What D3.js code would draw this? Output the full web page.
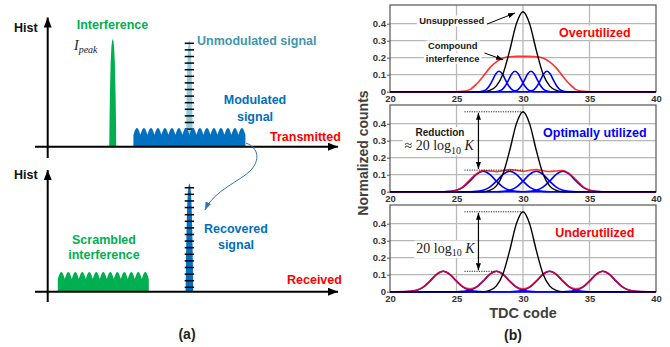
<!DOCTYPE html>
<html>
<head>
<meta charset="utf-8">
<script src="https://cdn.jsdelivr.net/npm/d3@7"></script>
<style>
  body { margin: 0; background: #fff; }
  svg { display: block; }
  text { font-family: "Liberation Sans", Arial, sans-serif; }
</style>
</head>
<body>
<svg id="chart" width="670" height="347"></svg>
<script>
// ---------------- data: panel (a), schematic histograms ----------------
// x in "code" units (one bump per unit), y normalised to 1 = full height
const spikeNames = ['Interference', 'Unmodulated', 'Recovered'];
const spikePos = [9.25, 20.2, 20.2];
const spikeHeight = [0.98, 0.97, 0.985];
const spikeHalfWidth = [0.5, 0.48, 0.54];
const spikeOffsets = [-1, -0.9, -0.8, -0.6, -0.4, -0.2, 0, 0.2, 0.4, 0.6, 0.8, 0.9, 1];
const spikeProfile = [0, 0.3, 0.5, 0.78, 0.92, 0.98, 1, 0.98, 0.92, 0.78, 0.5, 0.3, 0];

const bumpOffsets = [-0.5, -0.4, -0.3, -0.2, -0.1, 0, 0.1, 0.2, 0.3, 0.4, 0.5];
const bumpProfile = [0.64, 0.75, 0.85, 0.93, 0.98, 1, 0.98, 0.93, 0.85, 0.75, 0.64];
const modulatedCenters = [12.7, 13.7, 14.7, 15.7, 16.7, 17.7, 18.7, 19.7, 20.7, 21.7, 22.7, 23.7, 24.7, 25.7, 26.7, 27.7];
const modulatedHeight = 0.17;
const scrambledCenters = [1.9, 2.9, 3.9, 4.9, 5.9, 6.9, 7.9, 8.9, 9.9, 10.9, 11.9, 12.9, 13.9];
const scrambledHeight = 0.18;
const unmodTicks = [0.94, 0.88, 0.82, 0.76, 0.70, 0.64, 0.58, 0.52, 0.46, 0.40, 0.34, 0.28, 0.22, 0.16];
const recoveredTicks = [0.945, 0.885, 0.825, 0.765, 0.70, 0.64, 0.58, 0.52, 0.46, 0.40, 0.34, 0.28, 0.22, 0.16, 0.10, 0.04];

// ---------------- data: panel (b), TDC code histograms ----------------
const subplotNames = ['Overutilized', 'Optimally utilized', 'Underutilized'];
const tdcTicks = [20, 25, 30, 35, 40];
const countTicks = [0, 0.1, 0.2, 0.3, 0.4];
const countTickLabels = ['0', '0.1', '0.2', '0.3', '0.4'];

const unsuppressedCenter = 30;
const wideOffsets = [-3, -2.5, -2, -1.5, -1, -0.5, 0, 0.5, 1, 1.5, 2, 2.5, 3];
const unsuppressedProfile = [0, 0.008, 0.034, 0.106, 0.243, 0.399, 0.47, 0.399, 0.243, 0.106, 0.034, 0.008, 0];
const blueWideProfile = [0, 0.002, 0.0085, 0.027, 0.062, 0.102, 0.12, 0.102, 0.062, 0.027, 0.0085, 0.002, 0];
const narrowOffsets = [-1.5, -1.25, -1, -0.75, -0.5, -0.25, 0, 0.25, 0.5, 0.75, 1, 1.25, 1.5];
const blueNarrowProfile = [0, 0.003, 0.011, 0.032, 0.066, 0.104, 0.12, 0.104, 0.066, 0.032, 0.011, 0.003, 0];

const overCenters = [28.2, 29.4, 30.6, 31.8];
const optCenters = [27, 29, 31, 33];
const underCenters = [24, 28, 32, 36];

const overRedX = [20, 25, 25.5, 26, 26.5, 27, 27.5, 28, 28.5, 29, 29.5, 30, 30.5, 31, 31.5, 32, 32.5, 33, 33.5, 34, 34.5, 35, 40];
const overRedY = [0, 0, 0.002, 0.012, 0.045, 0.09, 0.14, 0.175, 0.198, 0.206, 0.208, 0.208, 0.208, 0.206, 0.198, 0.175, 0.14, 0.09, 0.045, 0.012, 0.002, 0, 0];
const optRedX = [20, 24, 24.5, 25, 25.5, 26, 26.5, 27, 27.5, 28, 28.5, 29, 29.5, 30, 30.5, 31, 31.5, 32, 32.5, 33, 33.5, 34, 34.5, 35, 35.5, 36, 40];
const optRedY = [0, 0, 0.001, 0.008, 0.03, 0.07, 0.105, 0.124, 0.122, 0.118, 0.123, 0.13, 0.126, 0.12, 0.126, 0.13, 0.124, 0.119, 0.122, 0.125, 0.105, 0.07, 0.03, 0.008, 0.001, 0, 0];
const underRedX = [20, 20.5, 21, 21.5, 22, 22.5, 23, 23.5, 24, 24.5, 25, 25.5, 26, 26.5, 27, 27.5, 28, 28.5, 29, 29.5, 30,
  30.5, 31, 31.5, 32, 32.5, 33, 33.5, 34, 34.5, 35, 35.5, 36, 36.5, 37, 37.5, 38, 38.5, 39, 39.5, 40];
const underRedY = [0, 0, 0.001, 0.002, 0.0085, 0.027, 0.062, 0.102, 0.12, 0.102, 0.062, 0.028, 0.017, 0.028, 0.062, 0.102, 0.12, 0.102, 0.062, 0.028, 0.017,
  0.028, 0.062, 0.102, 0.12, 0.102, 0.062, 0.028, 0.017, 0.028, 0.062, 0.102, 0.12, 0.102, 0.062, 0.027, 0.0085, 0.002, 0.001, 0, 0];

const peakLevel = 0.47;
const suppressedLevel = [null, 0.127, 0.12];

// ---------------- styles ----------------
const SERIF = '"Liberation Serif", "Times New Roman", serif';
const GREEN = '#00b050', BLUE = '#0070c0', LIGHTBLUE = '#93cddd', TEAL = '#4196ae', RED = '#ff0000';
const titleColors = ['#ff0000', '#0000ff', '#ff0000'];

const svg = d3.select('#chart');
const defs = svg.append('defs');

function marker(id, w, h, color) {
  defs.append('marker').attr('id', id)
    .attr('markerUnits', 'userSpaceOnUse')
    .attr('markerWidth', w).attr('markerHeight', h)
    .attr('refX', w).attr('refY', h / 2)
    .attr('orient', 'auto-start-reverse')
    .append('path').attr('d', `M0,0L${w},${h / 2}L0,${h}Z`).attr('fill', color);
}
marker('axArrow', 10, 8, '#000');
marker('smArrow', 7, 5, '#000');
marker('blArrow', 8, 6, '#2e75b6');

// ======================= panel (a) =======================
const xa = d3.scaleLinear().domain([0, 41]).range([48, 335]);
const yaTop = d3.scaleLinear().domain([0, 1]).range([146.7, 36.7]);
const yaBot = d3.scaleLinear().domain([0, 1]).range([291.7, 181.7]);
const lineA = (ys) => d3.line().x(d => xa(d[0])).y(d => ys(d[1]));

function bumpTrain(centers, height) {
  const pts = [[centers[0] - 0.5, 0]];
  centers.forEach(c => bumpOffsets.forEach((o, i) => pts.push([c + o, bumpProfile[i] * height])));
  pts.push([centers[centers.length - 1] + 0.5, 0]);
  return pts;
}
function spike(i) {
  return spikeOffsets.map((o, k) => [spikePos[i] + o * spikeHalfWidth[i], spikeProfile[k] * spikeHeight[i]]);
}

// top: transmitted
svg.append('path').attr('d', lineA(yaTop)(spike(0))).attr('fill', GREEN);
svg.append('path').attr('d', lineA(yaTop)(spike(1))).attr('fill', LIGHTBLUE);
svg.append('g').selectAll('line').data(unmodTicks).join('line')
  .attr('x1', xa(spikePos[1] - 0.67)).attr('x2', xa(spikePos[1] + 0.67))
  .attr('y1', d => yaTop(d)).attr('y2', d => yaTop(d))
  .attr('stroke', '#000').attr('stroke-width', 1.5);
svg.append('path').attr('d', lineA(yaTop)(bumpTrain(modulatedCenters, modulatedHeight))).attr('fill', BLUE);

// bottom: received
svg.append('path').attr('d', lineA(yaBot)(bumpTrain(scrambledCenters, scrambledHeight))).attr('fill', GREEN);
svg.append('path').attr('d', lineA(yaBot)(spike(2))).attr('fill', BLUE);
svg.append('g').selectAll('line').data(recoveredTicks).join('line')
  .attr('x1', xa(spikePos[2] - 0.67)).attr('x2', xa(spikePos[2] + 0.67))
  .attr('y1', d => yaBot(d)).attr('y2', d => yaBot(d))
  .attr('stroke', '#000').attr('stroke-width', 1.5);

// axes with arrows
[[yaTop, 158, 17.5], [yaBot, 302, 170]].forEach(([ys, yLow, yTip]) => {
  svg.append('line').attr('x1', 47.7).attr('x2', 47.7).attr('y1', yLow).attr('y2', yTip)
    .attr('stroke', '#000').attr('stroke-width', 2).attr('marker-end', 'url(#axArrow)');
  svg.append('line').attr('x1', 35).attr('x2', 338).attr('y1', ys(0)).attr('y2', ys(0))
    .attr('stroke', '#000').attr('stroke-width', 2).attr('marker-end', 'url(#axArrow)');
});

function txt(x, y, str, size, color, anchor = 'middle') {
  return svg.append('text').attr('x', x).attr('y', y).attr('text-anchor', anchor)
    .attr('dominant-baseline', 'central')
    .style('font-size', size + 'px').style('font-weight', 'bold').attr('fill', color).text(str);
}
txt(14, 28, 'Hist', 12.5, '#111', 'start');
txt(14, 175, 'Hist', 12.5, '#111', 'start');
txt(112.5, 25, 'Interference', 12.5, GREEN);
txt(197, 40.5, 'Unmodulated signal', 12.5, TEAL, 'start');
txt(255, 100, 'Modulated', 12.5, BLUE);
txt(255, 117, 'signal', 12.5, BLUE);
txt(270, 137, 'Transmitted', 12.5, RED, 'start');
txt(104, 240, 'Scrambled', 12.5, GREEN);
txt(104, 255, 'interference', 12.5, GREEN);
txt(236, 229, 'Recovered', 12.5, BLUE);
txt(236, 244.5, 'signal', 12.5, BLUE);
txt(287, 280, 'Received', 12.5, RED, 'start');
txt(187, 334, '(a)', 14, '#222');

// I_peak
const ip = svg.append('text').attr('x', 74).attr('y', 49.5)
  .style('font-family', SERIF).style('font-style', 'italic').style('font-size', '14px').attr('fill', '#222');
ip.append('tspan').text('I');
ip.append('tspan').attr('dy', 3).style('font-size', '10px').text('peak');

// curved blue arrow from transmitted to recovered
svg.append('path')
  .attr('d', 'M246,143 C259,148 260,160 251,170 C241,181 214,190 205,210')
  .attr('fill', 'none').attr('stroke', '#2e75b6').attr('stroke-width', 1)
  .attr('marker-end', 'url(#blArrow)');

// ======================= panel (b) =======================
const xb = d3.scaleLinear().domain([20, 40]).range([390, 656]);
const PH = 86.7;
const lineB = (ys) => d3.line().x(d => xb(d[0])).y(d => ys(d[1])).curve(d3.curveMonotoneX);

function component(center, offsets, profile) {
  return [[20, 0], ...offsets.map((o, i) => [center + o, profile[i]]), [40, 0]];
}

const comps = [
  { centers: overCenters, offsets: narrowOffsets, profile: blueNarrowProfile, rx: overRedX, ry: overRedY },
  { centers: optCenters, offsets: wideOffsets, profile: blueWideProfile, rx: optRedX, ry: optRedY },
  { centers: underCenters, offsets: wideOffsets, profile: blueWideProfile, rx: underRedX, ry: underRedY }
];

subplotNames.forEach((name, i) => {
  const bottom = 91.7 + i * 100;
  const yb = d3.scaleLinear().domain([0, 0.51]).range([bottom, bottom - PH]);
  const g = svg.append('g');
  const gridL = g.append('g'), bgL = g.append('g'), curveL = g.append('g'), textL = g.append('g');

  gridL.selectAll('.vg').data(tdcTicks.slice(1, -1)).join('line')
    .attr('x1', d => xb(d)).attr('x2', d => xb(d)).attr('y1', bottom).attr('y2', bottom - PH)
    .attr('stroke', '#b8b8b8').attr('stroke-width', 1.3);
  gridL.selectAll('.hg').data(countTicks.slice(1)).join('line')
    .attr('x1', xb(20)).attr('x2', xb(40)).attr('y1', d => yb(d)).attr('y2', d => yb(d))
    .attr('stroke', '#b8b8b8').attr('stroke-width', 1.3);
  gridL.append('rect').attr('x', xb(20)).attr('y', bottom - PH).attr('width', xb(40) - xb(20)).attr('height', PH)
    .attr('fill', 'none').attr('stroke', '#555').attr('stroke-width', 1.2);

  const xAx = gridL.append('g').attr('transform', `translate(0,${bottom})`)
    .call(d3.axisBottom(xb).tickValues(tdcTicks).tickSize(0).tickPadding(4));
  xAx.select('.domain').remove();
  xAx.selectAll('text').style('font-size', '9.5px').style('font-weight', 'bold').attr('fill', '#333');

  const yAx = gridL.append('g').attr('transform', `translate(${xb(20)},0)`)
    .call(d3.axisLeft(yb).tickValues(countTicks).tickFormat((d, k) => countTickLabels[k]).tickSize(3).tickPadding(1));
  yAx.select('.domain').remove();
  yAx.selectAll('line').attr('stroke', '#555');
  yAx.selectAll('text').style('font-size', '9.5px').style('font-weight', 'bold').attr('fill', '#333');

  // curves
  const c = comps[i];
  c.centers.forEach(ctr => {
    curveL.append('path').attr('d', lineB(yb)(component(ctr, c.offsets, c.profile)))
      .attr('fill', 'none').attr('stroke', '#0000ff').attr('stroke-width', 1.6);
  });
  curveL.append('path').attr('d', lineB(yb)(c.rx.map((x, k) => [x, c.ry[k]])))
    .attr('fill', 'none').attr('stroke', '#ff0000').attr('stroke-opacity', 0.8).attr('stroke-width', 1.6);
  curveL.append('path').attr('d', lineB(yb)(component(unsuppressedCenter, wideOffsets, unsuppressedProfile)))
    .attr('fill', 'none').attr('stroke', '#000').attr('stroke-width', 1.4);

  function boxed(x, y, str, size, color, pad = 2) {
    const t = textL.append('text').attr('x', x).attr('y', y).attr('text-anchor', 'middle')
      .attr('dominant-baseline', 'central').style('font-size', size + 'px').style('font-weight', 'bold')
      .attr('fill', color).text(str);
    const b = t.node().getBBox();
    bgL.append('rect').attr('x', b.x - pad).attr('y', b.y).attr('width', b.width + 2 * pad)
      .attr('height', b.height).attr('fill', '#fff');
    return t;
  }
  boxed(xb(35.4), yb(0.348), name, 12.5, titleColors[i], 3);

  function logK(x, y, prefix) {
    const t = textL.append('text').attr('x', x).attr('y', y).attr('text-anchor', 'middle')
      .style('font-family', SERIF).style('font-size', '14px').attr('fill', '#222');
    t.append('tspan').text(prefix + '20 log');
    t.append('tspan').attr('dy', 3.5).style('font-size', '10px').text('10');
    t.append('tspan').attr('dy', -3.5).style('font-style', 'italic').text(' K');
    const b = t.node().getBBox();
    bgL.append('rect').attr('x', b.x - 2).attr('y', b.y).attr('width', b.width + 4).attr('height', b.height).attr('fill', '#fff');
  }

  if (i === 0) {
    boxed(xb(24.64), yb(0.416), 'Unsuppressed', 9.4, '#1a1a1a');
    boxed(xb(24.71), yb(0.269), 'Compound', 9.4, '#1a1a1a');
    boxed(xb(24.71), yb(0.196), 'interference', 9.4, '#1a1a1a');
    textL.append('line').attr('x1', xb(27.3)).attr('y1', yb(0.398)).attr('x2', xb(29.4)).attr('y2', yb(0.463))
      .attr('stroke', '#000').attr('stroke-width', 1).attr('marker-end', 'url(#smArrow)');
    textL.append('line').attr('x1', xb(27.1)).attr('y1', yb(0.228)).attr('x2', xb(28.5)).attr('y2', yb(0.188))
      .attr('stroke', '#000').attr('stroke-width', 1).attr('marker-end', 'url(#smArrow)');
  } else {
    const lo = suppressedLevel[i];
    textL.append('line').attr('x1', xb(25.6)).attr('x2', xb(30)).attr('y1', yb(peakLevel)).attr('y2', yb(peakLevel))
      .attr('stroke', '#222').attr('stroke-width', 1).attr('stroke-dasharray', '1.2,1.2');
    textL.append('line').attr('x1', xb(25.6)).attr('x2', xb(i === 1 ? 30 : 27.9)).attr('y1', yb(lo)).attr('y2', yb(lo))
      .attr('stroke', '#222').attr('stroke-width', 1).attr('stroke-dasharray', '1.2,1.2');
    textL.append('line').attr('x1', xb(26.65)).attr('x2', xb(26.65))
      .attr('y1', yb(peakLevel) + 1).attr('y2', yb(lo) - 1)
      .attr('stroke', '#000').attr('stroke-width', 1.2)
      .attr('marker-start', 'url(#smArrow)').attr('marker-end', 'url(#smArrow)');
    if (i === 1) {
      boxed(xb(23.76), yb(0.347), 'Reduction', 10, '#1a1a1a');
      logK(xb(23.7), yb(0.245), '\u2248 ');
    } else {
      logK(xb(24.17), yb(0.23), '');
    }
  }
});

svg.append('text').attr('x', 363).attr('y', 153).attr('text-anchor', 'middle').attr('dominant-baseline', 'central')
  .attr('transform', 'rotate(-90,363,153)')
  .style('font-size', '14px').style('font-weight', 'bold').attr('fill', '#404040').text('Normalized counts');
svg.append('text').attr('x', xb(30)).attr('y', 313).attr('text-anchor', 'middle').attr('dominant-baseline', 'central')
  .style('font-size', '14.5px').style('font-weight', 'bold').attr('fill', '#404040').text('TDC code');
svg.append('text').attr('x', 513).attr('y', 335).attr('text-anchor', 'middle').attr('dominant-baseline', 'central')
  .style('font-size', '14px').style('font-weight', 'bold').attr('fill', '#222').text('(b)');
</script>
</body>
</html>
